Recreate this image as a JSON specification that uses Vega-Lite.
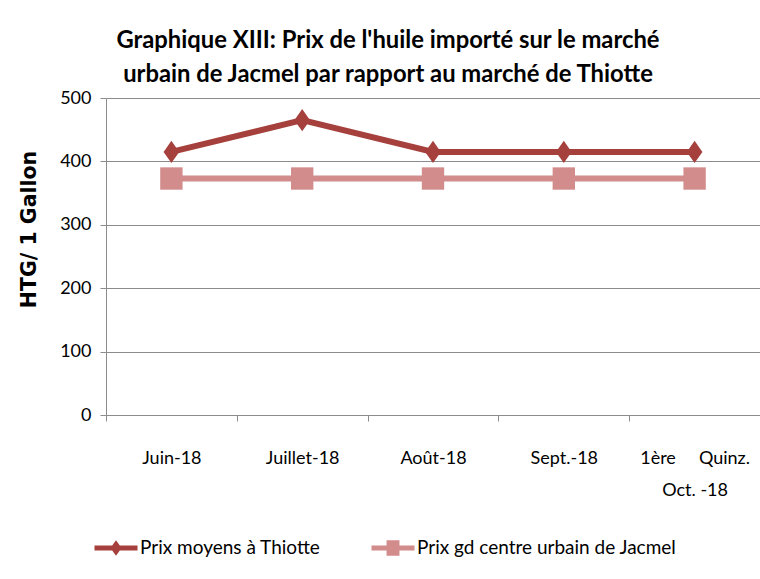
{
  "$schema": "https://vega.github.io/schema/vega-lite/v6.json",
  "autosize": "none",
  "padding": {"left": 106, "top": 98, "right": 0, "bottom": 164},
  "width": 654,
  "height": 317,
  "background": "white",
  "title": {
    "text": ["Graphique XIII: Prix de l'huile importé sur le marché", "urbain de Jacmel par rapport au marché de Thiotte"],
    "font": "Lato",
    "fontSize": 23.8,
    "fontWeight": "bold",
    "color": "#000000",
    "anchor": "middle",
    "dx": -45,
    "offset": 2,
    "lineHeight": 34
  },
  "config": {
    "font": "Lato",
    "view": {"stroke": null},
    "axis": {
      "labelFont": "Lato",
      "labelFontSize": 18,
      "labelColor": "#000000",
      "domainColor": "#8c8c8c",
      "tickColor": "#8c8c8c",
      "gridColor": "#8c8c8c",
      "titleColor": "#000000"
    }
  },
  "data": {
    "values": [
      {"mois": "Juin-18", "serie": "Prix moyens à Thiotte", "prix": 415},
      {"mois": "Juillet-18", "serie": "Prix moyens à Thiotte", "prix": 465},
      {"mois": "Août-18", "serie": "Prix moyens à Thiotte", "prix": 415},
      {"mois": "Sept.-18", "serie": "Prix moyens à Thiotte", "prix": 415},
      {"mois": "1ère\u00a0\u00a0\u00a0\u00a0\u00a0Quinz.|\u00a0\u00a0\u00a0\u00a0\u00a0\u00a0\u00a0\u00a0Oct. -18", "serie": "Prix moyens à Thiotte", "prix": 415},
      {"mois": "Juin-18", "serie": "Prix gd centre urbain de Jacmel", "prix": 373},
      {"mois": "Juillet-18", "serie": "Prix gd centre urbain de Jacmel", "prix": 373},
      {"mois": "Août-18", "serie": "Prix gd centre urbain de Jacmel", "prix": 373},
      {"mois": "Sept.-18", "serie": "Prix gd centre urbain de Jacmel", "prix": 373},
      {"mois": "1ère\u00a0\u00a0\u00a0\u00a0\u00a0Quinz.|\u00a0\u00a0\u00a0\u00a0\u00a0\u00a0\u00a0\u00a0Oct. -18", "serie": "Prix gd centre urbain de Jacmel", "prix": 373}
    ]
  },
  "encoding": {
    "x": {
      "field": "mois",
      "type": "nominal",
      "sort": null,
      "scale": {"paddingInner": 0, "paddingOuter": 0},
      "axis": {
        "title": null,
        "labelAngle": 0,
        "labelExpr": "split(datum.label, '|')",
        "labelLineHeight": 32,
        "labelBaseline": "top",
        "tickBand": "extent",
        "tickSize": 6,
        "labelPadding": 28,
        "grid": false
      }
    },
    "y": {
      "field": "prix",
      "type": "quantitative",
      "scale": {"domain": [0, 500], "nice": false},
      "axis": {
        "title": "HTG/ 1 Gallon",
        "titleFont": "DejaVu Sans",
        "titleFontSize": 20.5,
        "titleFontWeight": "bold",
        "titleAngle": -90,
        "titleX": -77,
        "titleY": 131,
        "titleAlign": "center",
        "titleBaseline": "middle",
        "values": [0, 100, 200, 300, 400, 500],
        "tickSize": 6,
        "labelPadding": 9,
        "grid": true
      }
    }
  },
  "layer": [
    {
      "transform": [{"filter": "datum.serie == 'Prix moyens à Thiotte'"}],
      "mark": {"type": "line", "strokeWidth": 6, "color": "#A5403D"}
    },
    {
      "transform": [{"filter": "datum.serie == 'Prix gd centre urbain de Jacmel'"}],
      "mark": {"type": "line", "strokeWidth": 6, "color": "#D28C8B"}
    },
    {
      "transform": [{"filter": "datum.serie == 'Prix moyens à Thiotte'"}],
      "mark": {"type": "point", "filled": true, "opacity": 1, "shape": "M0,-1L0.7,0L0,1L-0.7,0Z", "size": 500, "color": "#A5403D"}
    },
    {
      "transform": [{"filter": "datum.serie == 'Prix gd centre urbain de Jacmel'"}],
      "mark": {"type": "point", "filled": true, "opacity": 1, "shape": "square", "size": 500, "color": "#D28C8B"}
    },
    {
      "mark": {"type": "point", "filled": true, "opacity": 0},
      "encoding": {
        "color": {
          "field": "serie",
          "type": "nominal",
          "sort": ["Prix moyens à Thiotte", "Prix gd centre urbain de Jacmel"],
          "scale": {"domain": ["Prix moyens à Thiotte", "Prix gd centre urbain de Jacmel"], "range": ["#A5403D", "#D28C8B"]},
          "legend": {
            "title": null,
            "orient": "none",
            "direction": "horizontal",
            "legendX": -12,
            "legendY": 428,
            "symbolSize": 1850,
            "symbolOpacity": 1,
            "labelFont": "Lato",
            "labelFontSize": 19,
            "labelColor": "#000000",
            "labelOffset": 2,
            "labelLimit": 0,
            "columnPadding": 50,
            "symbolStrokeWidth": 0
          }
        },
        "shape": {
          "field": "serie",
          "type": "nominal",
          "sort": ["Prix moyens à Thiotte", "Prix gd centre urbain de Jacmel"],
          "scale": {"domain": ["Prix moyens à Thiotte", "Prix gd centre urbain de Jacmel"], "range": ["M-1,-0.12L1,-0.12L1,0.12L-1,0.12ZM0,-0.36L0.26,0L0,0.36L-0.26,0Z", "M-1,-0.12L1,-0.12L1,0.12L-1,0.12ZM-0.3,-0.36L0.3,-0.36L0.3,0.36L-0.3,0.36Z"]},
          "legend": {
            "title": null,
            "orient": "none",
            "direction": "horizontal",
            "legendX": -12,
            "legendY": 428,
            "symbolSize": 1850,
            "symbolOpacity": 1,
            "labelFont": "Lato",
            "labelFontSize": 19,
            "labelColor": "#000000",
            "labelOffset": 2,
            "labelLimit": 0,
            "columnPadding": 50,
            "symbolStrokeWidth": 0
          }
        }
      }
    }
  ]
}
